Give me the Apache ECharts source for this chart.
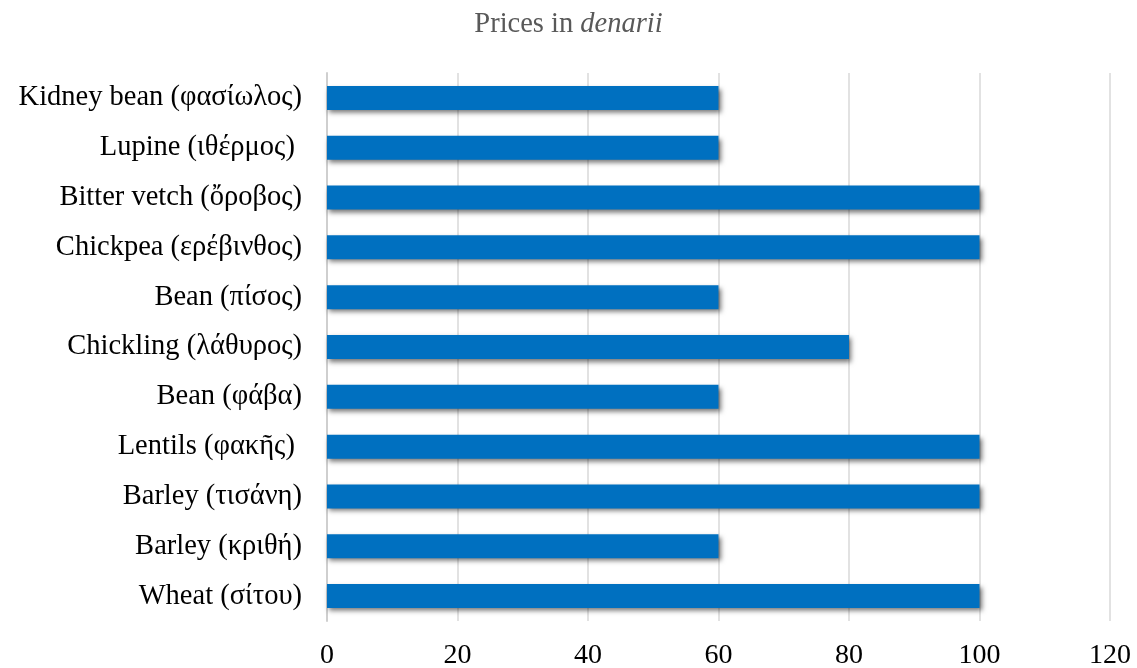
<!DOCTYPE html>
<html>
<head>
<meta charset="utf-8">
<script src="https://cdn.jsdelivr.net/npm/echarts@6/dist/echarts.min.js"></script>
<style>
  html, body { margin: 0; padding: 0; background: #ffffff; }
  #chart { width: 1137px; height: 668px; }
</style>
</head>
<body>
<div id="chart"></div>
<script>
// Legume and grain prices, listed bottom-to-top as drawn on the category axis
const categories = [
  'Wheat (σίτου)',
  'Barley (κριθή)',
  'Barley (τισάνη)',
  'Lentils (φακῆς) ',
  'Bean (φάβα)',
  'Chickling (λάθυρος)',
  'Bean (πίσος)',
  'Chickpea (ερέβινθος)',
  'Bitter vetch (ὄροβος)',
  'Lupine (ιθέρμος) ',
  'Kidney bean (φασίωλος)'
];
const prices = [100, 60, 100, 100, 60, 80, 60, 100, 100, 60, 60];
const xTicks = [0, 20, 40, 60, 80, 100, 120];

const serif = '"Liberation Serif", "Times New Roman", "DejaVu Serif", serif';

const chart = echarts.init(document.getElementById('chart'), null, { renderer: 'canvas' });
chart.setOption({
  backgroundColor: '#ffffff',
  animation: false,
  title: {
    text: '{a|Prices in }{b|denarii}',
    left: 'center',
    top: 5,
    textStyle: {
      fontWeight: 'normal',
      rich: {
        a: { fontFamily: serif, fontSize: 28.5, color: '#595959', fontWeight: 'normal' },
        b: { fontFamily: serif, fontSize: 28.5, color: '#595959', fontWeight: 'normal', fontStyle: 'italic' }
      }
    }
  },
  grid: { left: 327, right: 27, top: 73, bottom: 47, containLabel: false, outerBoundsMode: 'none' },
  xAxis: {
    type: 'value',
    min: xTicks[0],
    max: xTicks[xTicks.length - 1],
    interval: xTicks[1] - xTicks[0],
    axisLine: { show: false },
    axisTick: { show: false },
    splitLine: { show: true, lineStyle: { color: '#d9d9d9', width: 1.5 } },
    axisLabel: { fontFamily: serif, fontSize: 28, color: '#000000', margin: 21 }
  },
  yAxis: {
    type: 'category',
    data: categories,
    axisLine: { show: true, lineStyle: { color: '#cfcfcf', width: 2 } },
    axisTick: { show: false },
    axisLabel: { fontFamily: serif, fontSize: 28.5, color: '#000000', margin: 25 }
  },
  series: [{
    type: 'bar',
    data: prices,
    barWidth: 24,
    itemStyle: {
      color: '#0070C0',
      shadowColor: 'rgba(0,0,0,0.55)',
      shadowBlur: 5,
      shadowOffsetX: 2,
      shadowOffsetY: 3
    }
  }]
});
</script>
</body>
</html>
